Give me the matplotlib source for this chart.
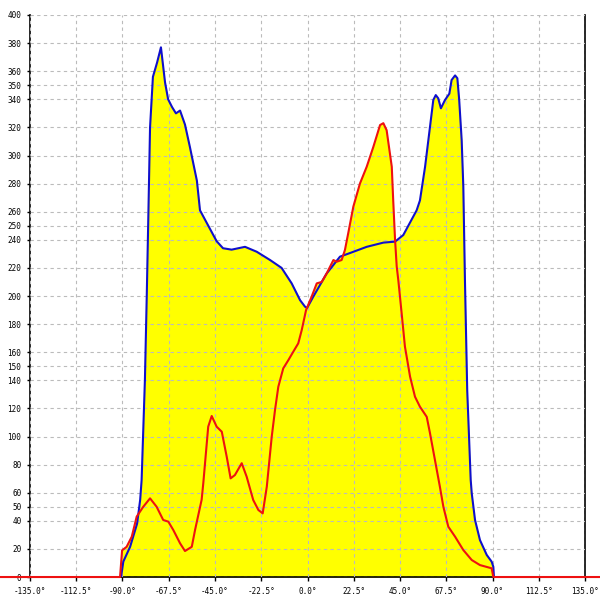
import matplotlib
matplotlib.use('Agg')
import matplotlib.pyplot as plt
import numpy as np

# blue series (angle in degrees, value)
blue_x = [-90.7, -89.6, -86.3, -82.9, -81.4, -80.7, -79.1, -78.2, -77.4, -76.6,
          -75.2, -73.2, -71.3, -69.3, -67.8, -65.9, -64.0, -62.0, -59.6, -57.2,
          -53.8, -52.3, -49.0, -44.2, -41.1, -36.9, -30.4, -24.7, -18.2, -12.6,
          -7.7, -3.6, -1.2, -0.2, 2.8, 9.3, 15.8, 20.7, 28.8, 36.9,
          42.6, 46.6, 53.1, 54.7, 57.2, 59.6, 61.2, 62.4, 63.6, 64.9,
          66.9, 69.0, 70.1, 71.8, 72.9, 73.8, 75.0, 75.8, 76.6, 77.7,
          79.4, 79.9, 81.5, 83.9, 87.2, 89.6, 90.4, 90.7]
blue_y = [0, 11, 21.5, 38, 55, 69, 140, 200, 259, 320,
          356, 366, 377, 352, 340, 334.5, 330, 332, 322, 306,
          282, 261, 252, 239, 234, 233, 235, 231.5, 225.6, 220,
          209, 197, 192.4, 191.5, 199.5, 216, 228, 230.6, 235, 238,
          238.7, 243.4, 261, 268, 292, 320.5, 339.5, 343, 340.7, 333.6,
          339.5, 344, 353.7, 357, 355, 339.5, 311, 278, 211, 133,
          69, 59.6, 40.6, 26.3, 15.7, 10.9, 7.3, 0]

# red series
red_x = [-150, -91.2, -90.2, -88.0, -85.5, -83.1, -79.9, -76.6, -73.4, -70.2,
         -67.7, -65.3, -62.0, -59.6, -56.3, -54.7, -51.5, -50.7, -48.3, -46.6,
         -44.2, -41.7, -39.3, -37.4, -35.3, -32.0, -29.6, -26.4, -23.9, -21.8,
         -19.8, -17.4, -15.8, -14.2, -11.8, -9.3, -6.9, -4.5, -2.8, -0.7,
         2.0, 4.5, 6.9, 9.3, 12.6, 14.2, 16.6, 18.2, 19.8, 22.3,
         25.5, 28.8, 32.0, 35.3, 36.9, 38.5, 41.0, 41.7, 42.6, 43.4,
         44.2, 45.8, 47.4, 49.9, 52.3, 54.7, 58.0, 59.6, 62.0, 64.4,
         66.1, 68.5, 71.8, 75.8, 79.9, 83.9, 89.6, 90.4, 146]
red_y = [0, 0, 19, 21.5, 28.7, 43, 50, 56, 50, 40.6,
         39.4, 33.5, 24, 18.5, 21.5, 33.5, 55, 66.7, 107, 114.6,
         107, 103.4, 85.6, 70.2, 72.6, 81, 71.4, 54.8, 47.7, 45.3,
         64.3, 99.9, 118.9, 135.4, 148.5, 154.4, 160.4, 166.3, 175.8, 190,
         199.5, 209, 210, 216, 225.6, 224.4, 225.6, 232.7, 244.6, 263.6,
         280, 292, 306, 321.7, 323, 318, 292, 268, 240, 221,
         211, 187.7, 164, 142.6, 128.3, 121.2, 114, 102.3, 83.3, 64.3,
         50, 35.8, 28.7, 19.2, 12.1, 8.5, 6.2, 0, 0]

x_ticks = [-135 + 22.5 * i for i in range(13)]
x_labels = [f"{t:.1f}\u00b0" for t in x_ticks]
y_ticks = [0, 20, 40, 50, 60, 80, 100, 120, 140, 150, 160, 180, 200, 220,
           240, 250, 260, 280, 300, 320, 340, 350, 360, 380, 400]

fig = plt.figure(figsize=(6, 6), dpi=100)
ax = fig.add_axes([0.05, 0.0383, 0.925, 0.9367])

ax.fill_between(blue_x, blue_y, 0, color='#ffff00', lw=0, zorder=1)
ax.fill_between(red_x, red_y, 0, color='#ffff00', lw=0, zorder=1)
ax.plot(blue_x, blue_y, color='#1010cc', lw=1.5, zorder=3)
ax.plot(red_x, red_y, color='#ee1111', lw=1.5, zorder=4, clip_on=False)

ax.set_xlim(-135, 135)
ax.set_ylim(0, 400)
ax.set_xticks(x_ticks)
ax.set_xticklabels(x_labels)
ax.set_yticks(y_ticks)
ax.set_yticklabels([str(t) for t in y_ticks])

for lab in ax.get_xticklabels() + ax.get_yticklabels():
    lab.set_family('DejaVu Sans Mono')
    lab.set_fontsize(5.5)

ax.tick_params(axis='x', direction='out', length=3, width=1, pad=4)
ax.tick_params(axis='y', direction='out', length=2.2, width=1, pad=4)

ax.grid(True, color='#bbbbbb', linestyle=(0, (3, 3)), linewidth=0.8, zorder=2)
ax.set_axisbelow(False)

ax.spines['top'].set_visible(False)
for s in ['left', 'right', 'bottom']:
    ax.spines[s].set_color('black')
    ax.spines[s].set_linewidth(1.2)

plt.savefig('out.png', dpi=100)
plt.close()
